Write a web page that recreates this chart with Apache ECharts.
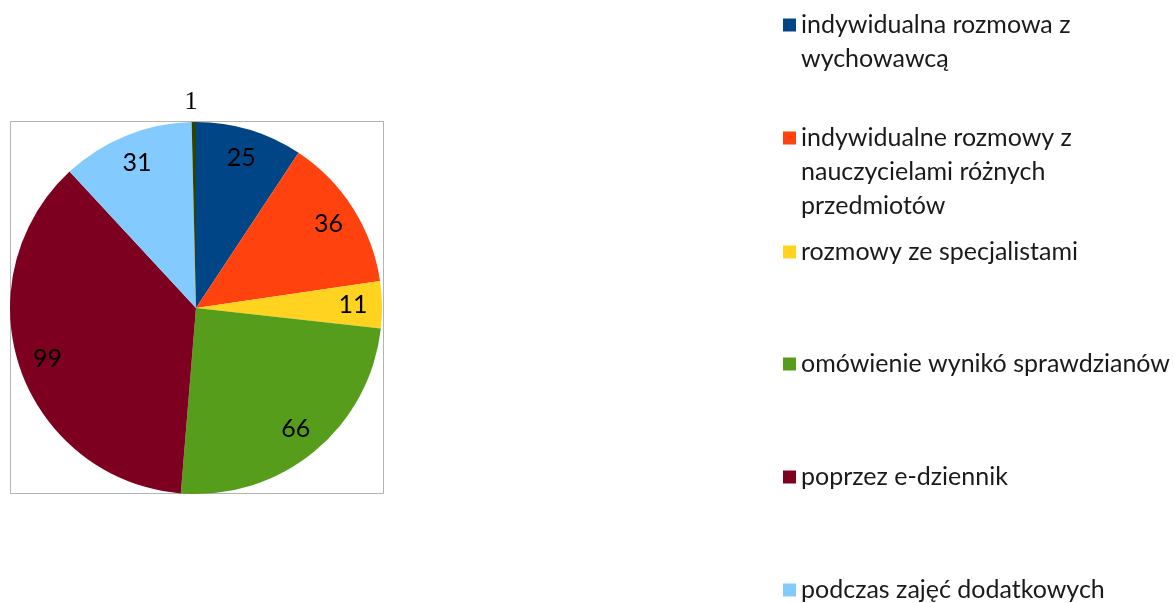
<!DOCTYPE html>
<html>
<head>
<meta charset="utf-8">
<script src="https://cdn.jsdelivr.net/npm/echarts@6/dist/echarts.min.js"></script>
<style>
  html, body { margin: 0; padding: 0; background: #fff; }
  #chart { width: 1174px; height: 603px; }
</style>
</head>
<body>
<div id="chart"></div>
<script>
// dane wykresu
const categories = [
  "indywidualna rozmowa z wychowawcą",
  "indywidualne rozmowy z nauczycielami różnych przedmiotów",
  "rozmowy ze specjalistami",
  "omówienie wynikó sprawdzianów",
  "poprzez e-dziennik",
  "podczas zajęć dodatkowych",
  "inne"
];
const values = [25, 36, 11, 66, 99, 31, 1];
const sliceColors = ["#004586", "#ff420e", "#ffd320", "#579d1c", "#7e0021", "#83caff", "#314004"];

// pozycje legendy (każdy wpis osobno, jak w oryginale)
const legendTops = [-26, 53, 239, 351, 464, 577];
const legendLines = [2, 3, 1, 1, 1, 1];

const myChart = echarts.init(document.getElementById("chart"));

const pieData = categories.map((name, i) => ({
  name: name,
  value: values[i],
  itemStyle: { color: sliceColors[i] }
}));

const labelData = categories.map((name, i) => {
  const item = { name: name, value: values[i] };
  if (i === categories.length - 1) {
    item.label = {
      position: "outside",
      fontFamily: "Liberation Serif",
      fontSize: 26,
      padding: 0,
      distanceToLabelLine: -4
    };
    item.labelLine = { show: false, length: 20, length2: 0 };
  }
  return item;
});

// ikonka przy pierwszej linii: puste linie na górze wyśrodkowują tekst
const legends = legendTops.map((top, i) => ({
  left: 783,
  top: top,
  padding: 0,
  orient: "vertical",
  icon: "rect",
  itemWidth: 13,
  itemHeight: 13,
  selectedMode: false,
  data: [categories[i]],
  formatter: (name) => "\n".repeat(legendLines[i] - 1) + name,
  textStyle: {
    fontFamily: "Lato",
    fontSize: 25,
    color: "#1a1a1a",
    lineHeight: legendLines[i] > 1 ? 34 : 26,
    width: 295,
    overflow: legendLines[i] > 1 ? "break" : "none"
  }
}));

const option = {
  backgroundColor: "#ffffff",
  animation: false,
  legend: legends,
  graphic: [
    {
      type: "rect",
      shape: { x: 10.5, y: 121.5, width: 373, height: 372 },
      style: { fill: "none", stroke: "#b3b3b3", lineWidth: 1 },
      z: 0
    }
  ],
  series: [
    {
      type: "pie",
      center: [196, 308],
      radius: 186,
      startAngle: 90,
      clockwise: true,
      avoidLabelOverlap: false,
      label: { show: false },
      labelLine: { show: false },
      itemStyle: { borderWidth: 0 },
      emphasis: { disabled: true },
      data: pieData
    },
    {
      // przezroczysta warstwa tylko dla etykiet
      type: "pie",
      center: [196, 308],
      radius: [122, 186],
      startAngle: 90,
      clockwise: true,
      silent: true,
      avoidLabelOverlap: false,
      itemStyle: { color: "rgba(0,0,0,0)", borderWidth: 0 },
      emphasis: { disabled: true },
      label: {
        show: true,
        position: "inside",
        formatter: "{c}",
        color: "#000",
        fontFamily: "Lato",
        fontSize: 25,
        padding: [5, 0, 0, 0]
      },
      labelLine: { show: false },
      data: labelData
    }
  ]
};

myChart.setOption(option);
</script>
</body>
</html>
